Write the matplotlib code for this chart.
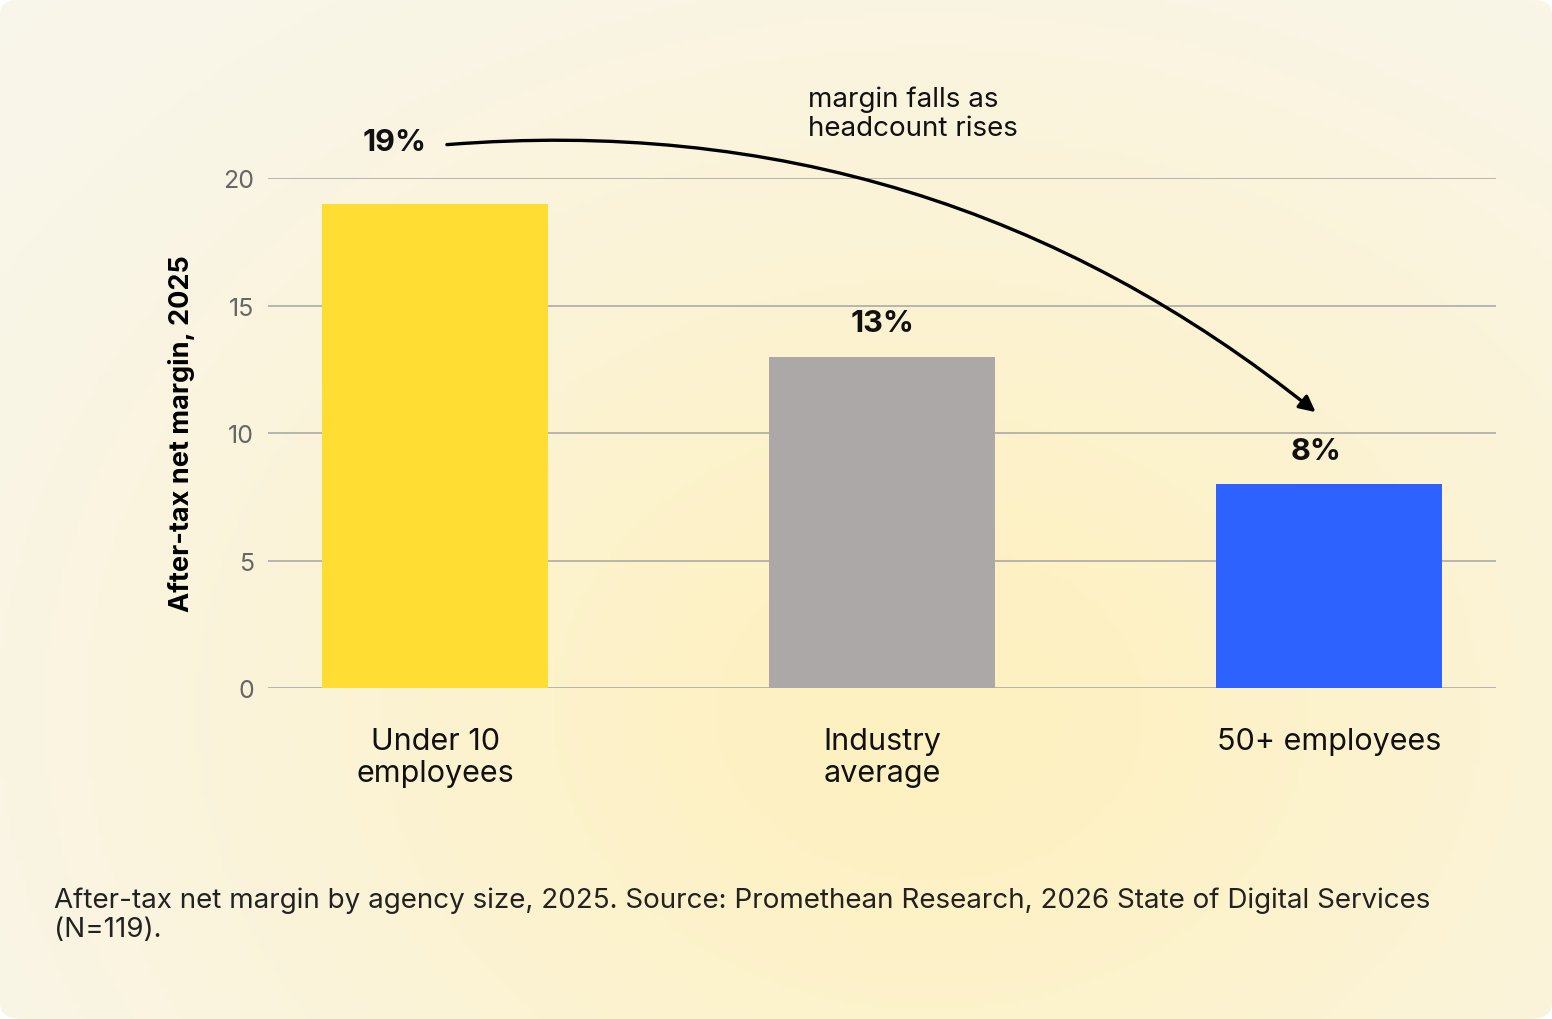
import numpy as np
import matplotlib
matplotlib.use("Agg")
import matplotlib.pyplot as plt
from matplotlib.patches import FancyBboxPatch

categories = ["Under 10\nemployees", "Industry\naverage", "50+ employees"]
values = [19, 13, 8]
labels = ["19%", "13%", "8%"]
colors = ["#FFDD33", "#ACA8A8", "#2E62FF"]
yticks = [0, 5, 10, 15, 20]

plt.rcParams['font.family'] = ['Inter', 'DejaVu Sans']
fig = plt.figure(figsize=(15.52, 10.20), dpi=100)
fig.patch.set_facecolor("white")

# background gradient with rounded corners
bg = fig.add_axes([0, 0, 1, 1])
bg.set_axis_off()
yy, xx = np.mgrid[0:1:200j, 0:1:300j]
c1 = np.array([0.975, 0.965, 0.93])
c2 = np.array([0.995, 0.945, 0.76])
d = np.exp(-(((xx - 0.6) / 0.5) ** 2 + ((yy - 0.3) / 0.6) ** 2))
img = c1[None, None, :] * (1 - d[..., None]) + c2[None, None, :] * d[..., None]
im = bg.imshow(img, extent=[0, 1, 0, 1], aspect='auto', origin='lower')
patch = FancyBboxPatch((0, 0), 1, 1, boxstyle="round,pad=0,rounding_size=0.015",
                       transform=bg.transAxes, facecolor='none', edgecolor='none')
bg.add_patch(patch)
im.set_clip_path(patch)
bg.set_xlim(0, 1); bg.set_ylim(0, 1)

ax = fig.add_axes([0.1727, 0.3245, 0.7913, 0.5])
ax.set_facecolor("none")
x = np.arange(len(categories))
ax.bar(x, values, width=0.506, color=colors, zorder=3)
ax.set_xlim(-0.374, 2.374)
ax.set_ylim(0, 20)
ax.set_yticks(yticks)
ax.grid(axis='y', color='#aaaaaa', linewidth=1.2, zorder=0)
ax.set_axisbelow(True)
for s in ax.spines.values():
    s.set_visible(False)
ax.tick_params(axis='y', length=0, labelsize=18, labelcolor='#666666', pad=10)
ax.tick_params(axis='x', length=0, labelsize=22, labelcolor='#111111', pad=28)
ax.set_xticks(x)
ax.set_xticklabels(categories, va='top', linespacing=1.2)
ax.set_ylabel("After-tax net margin, 2025", fontsize=19.5, fontweight='bold', labelpad=20)

pos = [(-0.09, 21.4), (1.0, 14.3), (1.97, 9.3)]
for (px, py), t in zip(pos, labels):
    ax.text(px, py, t, ha='center', va='center', fontsize=22, fontweight='bold',
            color='#111111', clip_on=False)

ax.annotate("", xy=(1.975, 10.75), xytext=(0.02, 21.3),
            arrowprops=dict(arrowstyle='-|>', color='black', lw=2.4,
                            mutation_scale=24,
                            connectionstyle="arc3,rad=-0.2"),
            annotation_clip=False)
ax.text(0.834, 21.45, "margin falls as\nheadcount rises", ha='left', va='bottom',
        fontsize=20, color='#111111', clip_on=False, linespacing=1.15)

fig.text(0.035, 0.075,
         "After-tax net margin by agency size, 2025. Source: Promethean Research, 2026 State of Digital Services\n(N=119).",
         fontsize=20, color='#222222', ha='left', va='bottom', linespacing=1.15)

fig.savefig("out.png", dpi=100, facecolor=fig.get_facecolor())
